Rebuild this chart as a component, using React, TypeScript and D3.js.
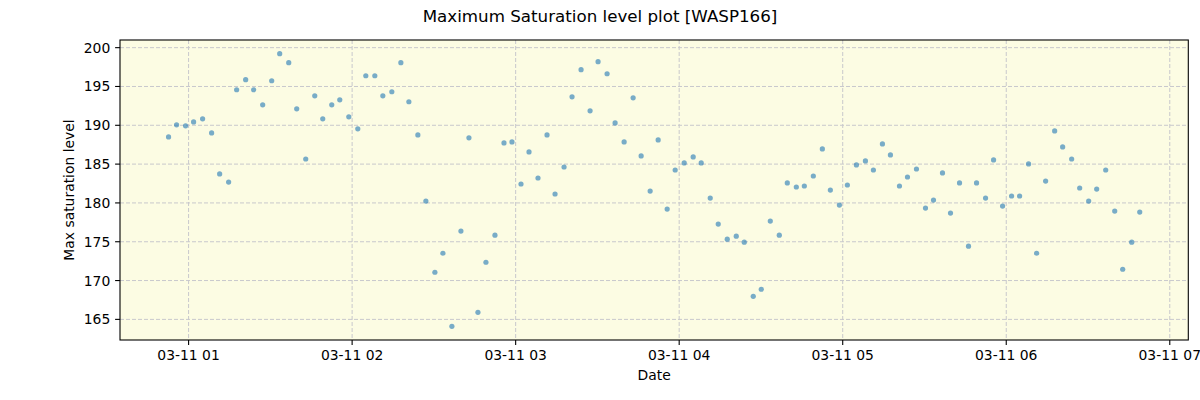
import React from "react";
import * as d3 from "d3";

// minutes after 2023-03-11 00:00
const minutes = [
  52.65, 55.59, 58.9, 61.84, 65.14, 68.45, 71.39, 74.69, 77.63, 80.94,
  83.88, 87.18, 90.49, 93.43, 96.74, 99.67, 102.98, 106.29, 109.22, 112.53,
  115.47, 118.78, 122.08, 125.02, 128.33, 131.27, 134.57, 137.88, 140.82, 144.12,
  147.06, 150.37, 153.31, 156.61, 159.92, 162.86, 166.16, 169.1, 172.41, 175.72,
  178.65, 181.96, 184.9, 188.2, 191.51, 194.45, 197.76, 200.69, 204.0, 207.31,
  210.24, 213.55, 216.49, 219.8, 223.1, 226.04, 229.35, 232.29, 235.59, 238.53,
  241.84, 245.14, 248.08, 251.39, 254.33, 257.63, 260.94, 263.88, 267.18, 270.12,
  273.43, 276.73, 279.67, 282.98, 285.92, 289.22, 292.53, 295.47, 298.78, 301.71,
  305.02, 308.33, 311.26, 314.57, 317.51, 320.82, 323.76, 327.06, 330.37, 333.31,
  336.61, 339.55, 342.86, 346.16, 349.1, 352.41, 355.35, 358.65, 361.96, 364.9,
  368.2, 371.14, 374.45, 377.76, 380.69, 384.0, 386.94, 390.24, 393.18, 396.49,
  399.8, 402.73, 406.04, 408.98,
];

const saturation = [
  188.5, 190.06, 189.93, 190.44, 190.83, 189.02, 183.73, 182.69, 194.58, 195.87,
  194.58, 192.64, 195.74, 199.23, 198.06, 192.12, 185.66, 193.8, 190.83, 192.64,
  193.28, 191.09, 189.54, 196.38, 196.38, 193.8, 194.32, 198.06, 193.03, 188.76,
  180.24, 171.07, 173.52, 164.1, 176.37, 188.38, 165.91, 172.36, 175.85, 187.73,
  187.86, 182.44, 186.57, 183.21, 188.76, 181.15, 184.63, 193.67, 197.16, 191.86,
  198.19, 196.64, 190.31, 187.86, 193.54, 186.05, 181.53, 188.12, 179.21, 184.24,
  185.15, 185.92, 185.15, 180.63, 177.27, 175.33, 175.72, 174.95, 167.97, 168.88,
  177.66, 175.85, 182.57, 182.05, 182.18, 183.47, 186.96, 181.66, 179.72, 182.31,
  184.89, 185.41, 184.24, 187.6, 186.18, 182.18, 183.34, 184.37, 179.34, 180.37,
  183.86, 178.69, 182.57, 174.43, 182.57, 180.63, 185.54, 179.59, 180.89, 180.89,
  185.02, 173.52, 182.82, 189.28, 187.21, 185.66, 181.92, 180.24, 181.79, 184.24,
  178.95, 171.46, 174.95, 178.82,
];

const xTickMinutes = [60, 120, 180, 240, 300, 360, 420];
const xTickLabels = ["03-11 01", "03-11 02", "03-11 03", "03-11 04", "03-11 05", "03-11 06", "03-11 07"];
const yTicks = [165, 170, 175, 180, 185, 190, 195, 200];

const W = 1200;
const H = 400;
const M = { left: 120, right: 1188.3, top: 40, bottom: 340 };

function pad(ext: [number, number]): [number, number] {
  const r = ext[1] - ext[0];
  return [ext[0] - 0.05 * r, ext[1] + 0.05 * r];
}

export default function App() {
  const x = d3.scaleLinear().domain(pad(d3.extent(minutes) as [number, number])).range([M.left, M.right]);
  const y = d3.scaleLinear().domain(pad(d3.extent(saturation) as [number, number])).range([M.bottom, M.top]);
  const font = "DejaVu Sans, sans-serif";
  const fs = 13.9;

  return (
    <svg width={W} height={H} style={{ position: "absolute", left: 0, top: 0 }} fontFamily={font}>
      <rect x={0} y={0} width={W} height={H} fill="white" />
      <rect x={M.left} y={M.top} width={M.right - M.left} height={M.bottom - M.top} fill="#fcfce3" />
      {/* grid */}
      {xTickMinutes.map((t) => (
        <line key={"gx" + t} x1={x(t)} x2={x(t)} y1={M.top} y2={M.bottom} stroke="#c8c8cc" strokeWidth={1} strokeDasharray="4,2" />
      ))}
      {yTicks.map((t) => (
        <line key={"gy" + t} x1={M.left} x2={M.right} y1={y(t)} y2={y(t)} stroke="#c8c8cc" strokeWidth={1} strokeDasharray="4,2" />
      ))}
      {/* points */}
      {minutes.map((m, i) => (
        <circle key={i} cx={x(m)} cy={y(saturation[i])} r={2.6} fill="#1f77b4" fillOpacity={0.6} />
      ))}
      {/* spines */}
      <rect x={M.left} y={M.top} width={M.right - M.left} height={M.bottom - M.top} fill="none" stroke="black" strokeWidth={1.1} />
      {/* x ticks */}
      {xTickMinutes.map((t, i) => (
        <g key={"xt" + t}>
          <line x1={x(t)} x2={x(t)} y1={M.bottom} y2={M.bottom + 4.9} stroke="black" strokeWidth={1.1} />
          <text x={x(t)} y={M.bottom + 9.7} dy="0.76em" textAnchor="middle" fontSize={fs} fill="black">
            {xTickLabels[i]}
          </text>
        </g>
      ))}
      {/* y ticks */}
      {yTicks.map((t) => (
        <g key={"yt" + t}>
          <line x1={M.left - 4.9} x2={M.left} y1={y(t)} y2={y(t)} stroke="black" strokeWidth={1.1} />
          <text x={M.left - 9.7} y={y(t)} dy="0.36em" textAnchor="end" fontSize={fs} fill="black">
            {t}
          </text>
        </g>
      ))}
      <text x={(M.left + M.right) / 2} y={380} textAnchor="middle" fontSize={fs} fill="black">
        Date
      </text>
      <text transform={`translate(74,${(M.top + M.bottom) / 2}) rotate(-90)`} textAnchor="middle" fontSize={fs} fill="black">
        Max saturation level
      </text>
      <text x={600} y={22} textAnchor="middle" fontSize={16.7} fill="black">
        Maximum Saturation level plot [WASP166]
      </text>
    </svg>
  );
}
